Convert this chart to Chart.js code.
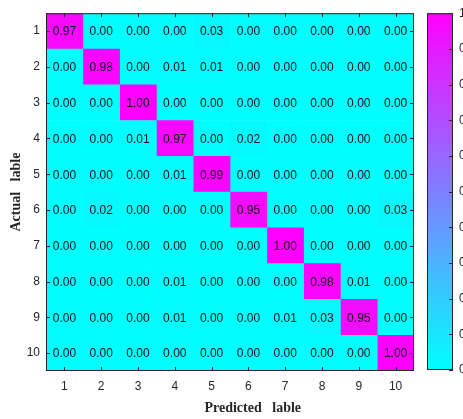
<!DOCTYPE html>
<html>
<head>
<meta charset="utf-8">
<script src="https://cdn.jsdelivr.net/npm/chart.js@4/dist/chart.umd.min.js"></script>
<style>
  body { margin: 0; background: #fff; overflow: hidden; }
  #wrap { position: relative; width: 463px; height: 419px; }
  #matrix { position: absolute; left: 0; top: 0; }
  #colorbar { position: absolute; left: 420px; top: 0; }
</style>
</head>
<body>
<div id="wrap">
  <canvas id="matrix" width="463" height="419"></canvas>
  <canvas id="colorbar" width="80" height="419"></canvas>
</div>
<script>
// data
const actualLabels = ["1", "2", "3", "4", "5", "6", "7", "8", "9", "10"];
const predictedTicks = [1, 2, 3, 4, 5, 6, 7, 8, 9, 10];
const row1 = [0.97, 0.0, 0.0, 0.0, 0.03, 0.0, 0.0, 0.0, 0.0, 0.0];
const row2 = [0.0, 0.98, 0.0, 0.01, 0.01, 0.0, 0.0, 0.0, 0.0, 0.0];
const row3 = [0.0, 0.0, 1.0, 0.0, 0.0, 0.0, 0.0, 0.0, 0.0, 0.0];
const row4 = [0.0, 0.0, 0.01, 0.97, 0.0, 0.02, 0.0, 0.0, 0.0, 0.0];
const row5 = [0.0, 0.0, 0.0, 0.01, 0.99, 0.0, 0.0, 0.0, 0.0, 0.0];
const row6 = [0.0, 0.02, 0.0, 0.0, 0.0, 0.95, 0.0, 0.0, 0.0, 0.03];
const row7 = [0.0, 0.0, 0.0, 0.0, 0.0, 0.0, 1.0, 0.0, 0.0, 0.0];
const row8 = [0.0, 0.0, 0.0, 0.01, 0.0, 0.0, 0.0, 0.98, 0.01, 0.0];
const row9 = [0.0, 0.0, 0.0, 0.01, 0.0, 0.0, 0.01, 0.03, 0.95, 0.0];
const row10 = [0.0, 0.0, 0.0, 0.0, 0.0, 0.0, 0.0, 0.0, 0.0, 1.0];
const matrixRows = [row1, row2, row3, row4, row5, row6, row7, row8, row9, row10];
const colorbarTicks = [0, 0.1, 0.2, 0.3, 0.4, 0.5, 0.6, 0.7, 0.8, 0.9, 1];

const axisColor = "#262626";
const tickFont = { family: "'Liberation Sans', Arial, sans-serif", size: 12 };
const titleFont = { family: "'Liberation Serif', 'Times New Roman', serif", size: 14, weight: "bold" };

// matlab "cool" colormap
function coolColor(v) {
  return `rgb(${Math.round(255 * v)}, ${Math.round(255 * (1 - v))}, 255)`;
}

// one floating-bar dataset per predicted column, all sharing the same row slot
const datasets = predictedTicks.map((col, j) => ({
  data: matrixRows.map(() => [col - 0.5, col + 0.5]),
  backgroundColor: matrixRows.map((r) => coolColor(r[j])),
  borderWidth: 0,
  barPercentage: 1,
  categoryPercentage: 1,
  grouped: false,
}));

// cell text + box with inward ticks
const matrixPlugin = {
  id: "matrixExtras",
  afterDatasetsDraw(chart) {
    const { ctx, chartArea: a, scales } = chart;
    ctx.save();
    ctx.fillStyle = "#111";
    ctx.font = "12px 'Liberation Sans', Arial, sans-serif";
    ctx.textAlign = "center";
    ctx.textBaseline = "middle";
    chart.data.datasets.forEach((ds, j) => {
      chart.getDatasetMeta(j).data.forEach((el, i) => {
        const p = el.getCenterPoint();
        ctx.fillText(matrixRows[i][j].toFixed(2), p.x, p.y + 1);
      });
    });

    ctx.strokeStyle = axisColor;
    ctx.lineWidth = 1;
    ctx.beginPath();
    predictedTicks.forEach((v) => {
      const x = Math.round(scales.x.getPixelForValue(v)) + 0.5;
      ctx.moveTo(x, a.top);
      ctx.lineTo(x, a.top + 4);
      ctx.moveTo(x, a.bottom);
      ctx.lineTo(x, a.bottom - 4);
    });
    actualLabels.forEach((l, i) => {
      const y = Math.round(scales.y.getPixelForTick(i)) + 0.5;
      ctx.moveTo(a.left, y);
      ctx.lineTo(a.left + 4, y);
      ctx.moveTo(a.right, y);
      ctx.lineTo(a.right - 4, y);
    });
    ctx.stroke();
    ctx.strokeRect(a.left + 0.5, a.top + 0.5, a.right - a.left - 1, a.bottom - a.top - 1);
    ctx.restore();
  },
};

new Chart(document.getElementById("matrix"), {
  type: "bar",
  data: { labels: actualLabels, datasets: datasets },
  options: {
    indexAxis: "y",
    responsive: false,
    animation: false,
    layout: { padding: { top: 10, right: 49, left: 0, bottom: 0 } },
    plugins: { legend: { display: false }, tooltip: { enabled: false } },
    scales: {
      x: {
        type: "linear",
        min: 0.5,
        max: 10.5,
        afterBuildTicks: (s) => {
          s.ticks = predictedTicks.map((v) => ({ value: v }));
        },
        afterFit: (s) => {
          s.height = 48;
        },
        grid: { display: false, drawTicks: false },
        border: { display: false },
        ticks: { color: axisColor, font: tickFont, padding: 8, maxRotation: 0 },
        title: {
          display: true,
          // leading blanks push the label right, as in the original figure
          text: "             Predicted   lable",
          color: axisColor,
          font: titleFont,
          padding: { top: 0, bottom: 2 },
        },
      },
      y: {
        type: "category",
        afterFit: (s) => {
          s.width = 46;
        },
        grid: { display: false, drawTicks: false },
        border: { display: false },
        ticks: { color: axisColor, font: tickFont, padding: 6 },
        title: {
          display: true,
          text: "Actual   lable",
          color: axisColor,
          font: titleFont,
          padding: { top: 8, bottom: 0 },
        },
      },
    },
  },
  plugins: [matrixPlugin],
});

// colorbar
const colorbarPlugin = {
  id: "colorbarBox",
  afterDatasetsDraw(chart) {
    const { ctx, chartArea: a, scales } = chart;
    ctx.save();
    ctx.strokeStyle = axisColor;
    ctx.lineWidth = 1;
    ctx.beginPath();
    colorbarTicks.forEach((v) => {
      const y = Math.round(scales.y.getPixelForValue(v)) + 0.5;
      ctx.moveTo(a.right, y);
      ctx.lineTo(a.right - 4, y);
    });
    ctx.stroke();
    ctx.strokeRect(a.left + 0.5, a.top + 0.5, a.right - a.left - 1, a.bottom - a.top - 1);
    ctx.restore();
  },
};

new Chart(document.getElementById("colorbar"), {
  type: "bar",
  data: {
    labels: [""],
    datasets: [
      {
        data: [[0, 1]],
        borderWidth: 0,
        barPercentage: 1,
        categoryPercentage: 1,
        backgroundColor: (c) => {
          const a = c.chart.chartArea;
          if (!a) return coolColor(0.5);
          const g = c.chart.ctx.createLinearGradient(0, a.bottom, 0, a.top);
          g.addColorStop(0, coolColor(0));
          g.addColorStop(1, coolColor(1));
          return g;
        },
      },
    ],
  },
  options: {
    responsive: false,
    animation: false,
    layout: { padding: { top: 10, right: 0, left: 7, bottom: 49 } },
    plugins: { legend: { display: false }, tooltip: { enabled: false } },
    scales: {
      x: { display: false },
      y: {
        position: "right",
        min: 0,
        max: 1,
        afterBuildTicks: (s) => {
          s.ticks = colorbarTicks.map((v) => ({ value: v }));
        },
        afterFit: (s) => {
          s.width = 47;
        },
        grid: { display: false, drawTicks: false },
        border: { display: false },
        ticks: { color: axisColor, font: tickFont, padding: 6 },
      },
    },
  },
  plugins: [colorbarPlugin],
});
</script>
</body>
</html>
